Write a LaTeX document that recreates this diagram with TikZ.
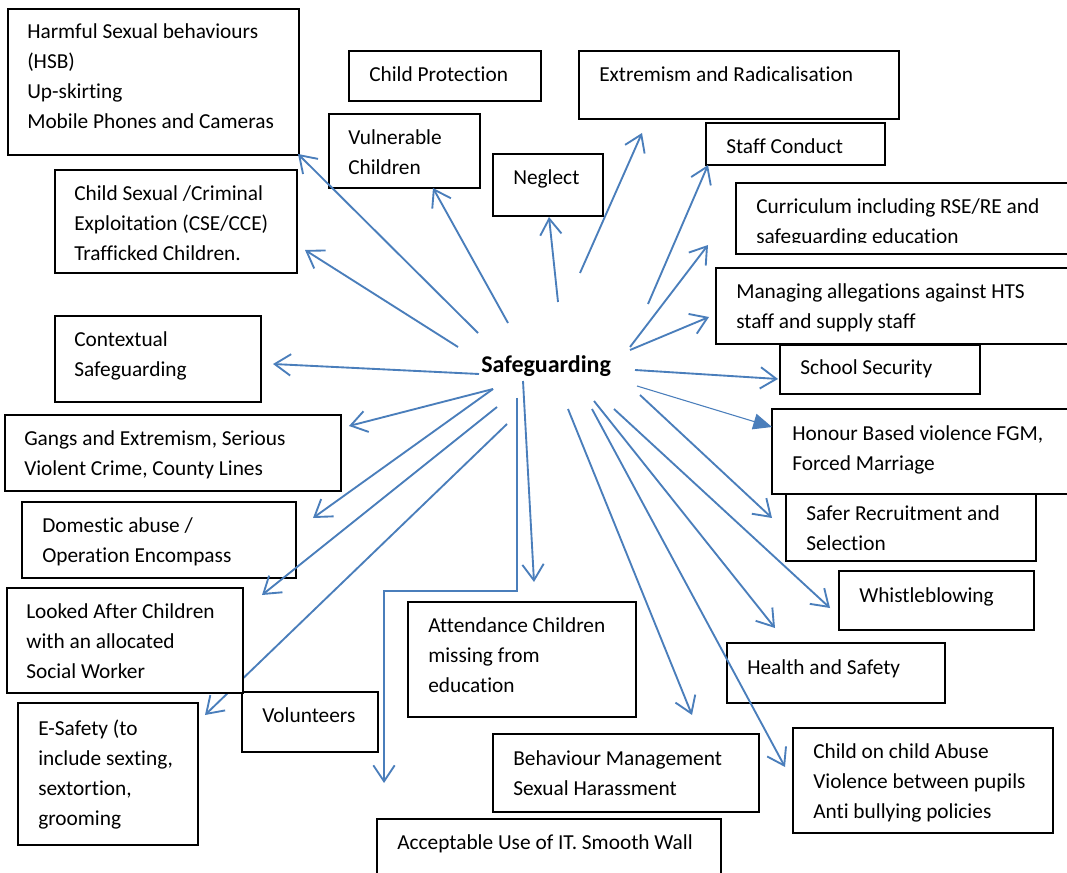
\documentclass[tikz,border=0pt]{standalone}
\usepackage{fontspec}
\setmainfont{Carlito}[Ligatures=NoCommon]
\usetikzlibrary{arrows.meta}
\definecolor{arr}{RGB}{74,126,187}
\newcommand\mybox[5]{\node[box, anchor=north west, inner sep=0pt, minimum width={(#4-#2)*0.75pt}, minimum height={(#5-#3)*0.75pt}] (#1) at (#2,#3) {};}
\begin{document}
\begin{tikzpicture}[x=0.75pt,y=-0.75pt,
  box/.style={draw, line width=1.5pt, fill=white},
  txt/.style={anchor=base west, inner sep=0pt, align=left, font=\fontsize{16}{22.5}\selectfont},
  arrowline/.style={draw=arr, line width=1.4pt, line join=miter, -{Straight Barb[length=12pt,width=16pt,line width=1.4pt]}},
  thinarrow/.style={draw=arr, line width=0.8pt, -{Triangle[length=14pt,width=12pt]}}]
\useasboundingbox (0,0) rectangle (1067,873);
\clip (0,0) rectangle (1067,873);
\fill[white] (0,0) rectangle (1067,873);

% arrow drawn under the Looked After box
\coordinate (esS) at (507,424); \coordinate (esE) at (205,715);
\draw[arrowline] (esS) -- (esE);

% boxes
\mybox{hsb}{7}{8}{298}{154}
\mybox{cp}{348}{50}{540}{100}
\mybox{ext}{578}{50}{898}{118}
\mybox{vul}{328}{113}{479}{187}
\mybox{neg}{492}{153}{602}{215}
\mybox{staff}{705}{122}{884}{164}
\mybox{cur}{735}{182}{1080}{253}
\mybox{man}{715}{267}{1080}{343}
\mybox{sec}{779}{344}{979}{393}
\mybox{hon}{771}{408}{1080}{493}
\mybox{safer}{785}{493}{1035}{560}
\mybox{whis}{838}{570}{1033}{629}
\mybox{hs}{726}{642}{944}{702}
\mybox{coc}{792}{727}{1052}{832}
\mybox{beh}{492}{733}{758}{811}
\mybox{acc}{376}{818}{720}{890}
\mybox{att}{407}{601}{635}{716}
\mybox{vol}{241}{691}{377}{751}
\mybox{esafe}{17}{702}{197}{844}
\mybox{lac}{6}{587}{242}{692}
\mybox{dom}{21}{501}{295}{577}
\mybox{gang}{4}{414}{340}{490}
\mybox{ctx}{54}{315}{260}{401}
\mybox{cse}{54}{169}{296}{272}

% texts (anchor = baseline of the last line)
\node[txt] (hsbT) at (27,129) {Harmful Sexual behaviours\\(HSB)\\Up-skirting\\Mobile Phones and Cameras};
\node[txt] (cpT) at (369,82) {Child Protection};
\node[txt] (extT) at (599,82) {Extremism and Radicalisation};
\node[txt] (vulT) at (348,175) {Vulnerable\\Children};
\node[txt] (negT) at (513,185) {Neglect};
\node[txt] (staffT) at (726,154) {Staff Conduct};
\begin{scope}
\clip (736,183) rectangle (1067,243);
\node[txt] (curT) at (756,244) {Curriculum including RSE/RE and\\safeguarding education};
\end{scope}
\node[txt] (manT) at (736,329) {Managing allegations against HTS\\staff and supply staff};
\node[txt] (secT) at (800,375) {School Security};
\node[txt] (honT) at (792,470) {Honour Based violence FGM,\\Forced Marriage};
\node[txt] (saferT) at (806,550) {Safer Recruitment and\\Selection};
\node[txt] (whisT) at (859,602) {Whistleblowing};
\node[txt] (hsT) at (747,674) {Health and Safety};
\node[txt] (cocT) at (813,818) {Child on child Abuse\\Violence between pupils\\Anti bullying policies};
\node[txt] (behT) at (513,795) {Behaviour Management\\Sexual Harassment};
\node[txt] (accT) at (397,849) {Acceptable Use of IT. Smooth Wall};
\node[txt] (attT) at (428,692) {Attendance Children\\missing from\\education};
\node[txt] (volT) at (262,722) {Volunteers};
\node[txt] (esafeT) at (38,825) {E-Safety (to\\include sexting,\\sextortion,\\grooming};
\node[txt] (lacT) at (26,678) {Looked After Children\\with an allocated\\Social Worker};
\node[txt] (domT) at (42,562) {Domestic abuse /\\Operation Encompass};
\node[txt] (gangT) at (24,475) {Gangs and Extremism, Serious\\Violent Crime, County Lines};
\node[txt] (ctxT) at (74,377) {Contextual\\Safeguarding};
\node[txt] (cseT) at (74,261) {Child Sexual /Criminal\\Exploitation (CSE/CCE)\\Trafficked Children.};
\node[txt, font=\fontsize{18}{22.5}\selectfont\bfseries] (sg) at (481,373) {Safeguarding};

% arrow coordinates
\coordinate (hsbS) at (478,333); \coordinate (hsbE) at (298,154);
\coordinate (vulS) at (508,323); \coordinate (vulE) at (433,188);
\coordinate (cseS) at (458,347); \coordinate (cseE) at (305,250);
\coordinate (negS) at (558,302); \coordinate (negE) at (549,217);
\coordinate (extS) at (580,273); \coordinate (extE) at (642,133);
\coordinate (staffS) at (648,304); \coordinate (staffE) at (708,165);
\coordinate (curS) at (630,347); \coordinate (curE) at (708,245);
\coordinate (manS) at (630,350); \coordinate (manE) at (709,317);
\coordinate (secS) at (635,370); \coordinate (secE) at (778,379);
\coordinate (honS) at (637,386); \coordinate (honE) at (772,427);
\coordinate (saferS) at (640,395); \coordinate (saferE) at (772,518);
\coordinate (whisS) at (614,409); \coordinate (whisE) at (830,608);
\coordinate (hsS) at (594,401); \coordinate (hsE) at (775,628);
\coordinate (cocS) at (592,409); \coordinate (cocE) at (785,767);
\coordinate (behS) at (568,409); \coordinate (behE) at (692,715);
\coordinate (attS) at (523,381); \coordinate (attE) at (534,582);
\coordinate (accS) at (517,398); \coordinate (accA) at (517,591); \coordinate (accB) at (384,591); \coordinate (accE) at (384,783);
\coordinate (lacS) at (497,407); \coordinate (lacE) at (262,595);
\coordinate (domS) at (493,389); \coordinate (domE) at (313,518);
\coordinate (gangS) at (493,389); \coordinate (gangE) at (349,426);
\coordinate (ctxS) at (479,374); \coordinate (ctxE) at (273,364);

\foreach \n in {hsb,vul,cse,neg,ext,staff,cur,man,sec,safer,whis,hs,coc,beh,att,lac,dom,gang,ctx}
  \draw[arrowline] (\n S) -- (\n E);
\draw[thinarrow] (honS) -- (honE);
\draw[arrowline] (accS) -- (accA) -- (accB) -- (accE);
\end{tikzpicture}
\end{document}
